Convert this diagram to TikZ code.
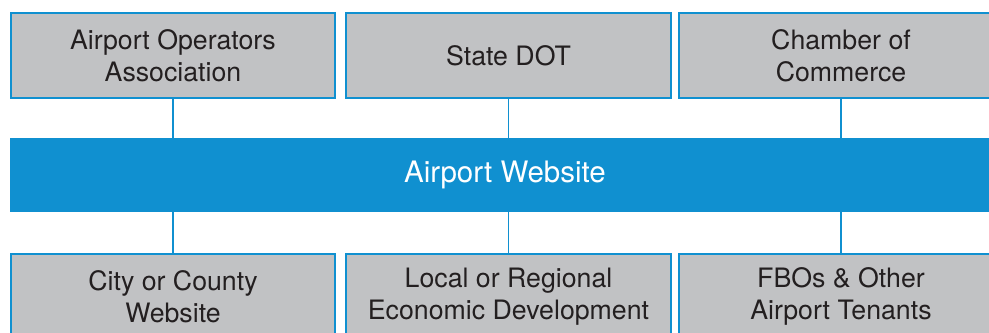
\documentclass[tikz,border=0pt]{standalone}
\usepackage{fontspec}
\setmainfont{TeX Gyre Heros}
\usepackage{tikz}
\usetikzlibrary{positioning,calc}
\definecolor{webblue}{RGB}{16,144,208}
\definecolor{boxgray}{RGB}{193,194,196}
\definecolor{inkgray}{RGB}{35,31,32}

\begin{document}
\begin{tikzpicture}[x=0.025cm,y=-0.025cm,
    partner/.style={draw=webblue,fill=boxgray,line width=1.4pt,
      minimum width=8.1cm,minimum height=2.125cm,align=center,
      text=inkgray,font=\fontsize{19}{22.7}\selectfont},
    link/.style={webblue,line width=1.4pt}]
    % frame of the picture
    \clip (0,0) rectangle (989,333);
    % top row
    \node[partner] (apo) at (173,55.5) {Airport Operators\\Association};
    \node[partner] (dot) at (508.5,55.5) {State DOT};
    \node[partner] (coc) at (841,55.5) {Chamber of\\Commerce};
    % website bar
    \node[fill=webblue,minimum width=24.75cm,minimum height=1.85cm,
          text=white,font=\fontsize{21}{25}\selectfont] (web) at (505,175)
          {Airport Website};
    % bottom row
    \node[partner] (city) at (173,296.5) {City or County\\Website};
    \node[partner] (eco) at (508.5,296.5) {Local or Regional\\Economic Development};
    \node[partner] (fbo) at (841,296.5) {FBOs \& Other\\Airport Tenants};
    % links
    \draw[link] (apo.south) -- (apo.south |- web.north);
    \draw[link] (dot.south) -- (dot.south |- web.north);
    \draw[link] (coc.south) -- (coc.south |- web.north);
    \draw[link] (web.south -| city.north) -- (city.north);
    \draw[link] (web.south -| eco.north) -- (eco.north);
    \draw[link] (web.south -| fbo.north) -- (fbo.north);
  \end{tikzpicture}
\end{document}
